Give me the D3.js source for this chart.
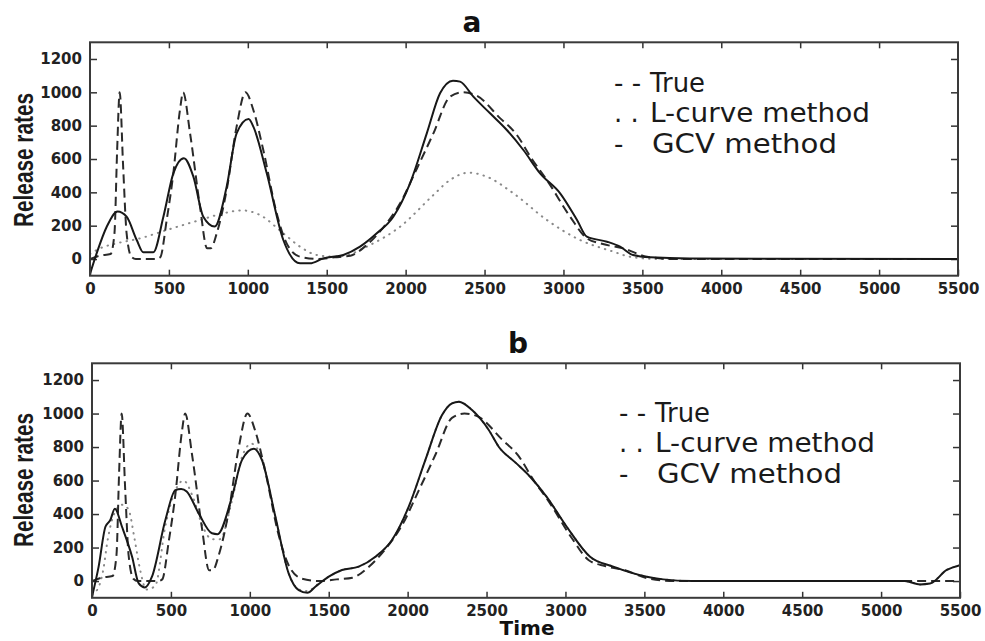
<!DOCTYPE html>
<html>
<head>
<meta charset="utf-8">
<title>Release rates: True, L-curve and GCV</title>
<script src="https://cdn.jsdelivr.net/npm/d3@7"></script>
<style>
  body { margin: 0; background: white; }
  .tick text { font-family: 'DejaVu Sans', sans-serif; font-weight: bold; font-size: 15px; fill: #222; }
  .tick line { stroke: #333; stroke-width: 1.5px; }
  .domain { display: none; }
  .frame { fill: none; stroke: #3a3a3a; stroke-width: 2px; }
  .true-line { fill: none; stroke: #2a2a2a; stroke-width: 2px; stroke-dasharray: 9,5; }
  .lcurve-line { fill: none; stroke: #8a8a8a; stroke-width: 2px; stroke-dasharray: 0.5,6; stroke-linecap: round; }
  .gcv-line { fill: none; stroke: #181818; stroke-width: 2px; }
  .legend { font-family: 'DejaVu Sans', sans-serif; font-size: 26px; fill: #1a1a1a; }
  .ylabel { font-family: 'Liberation Sans', Arial, sans-serif; font-weight: bold; font-size: 28px; fill: #1a1a1a; }
  .title { font-family: 'DejaVu Sans', sans-serif; font-weight: bold; font-size: 28px; fill: #111; }
  .xlabel { font-family: 'DejaVu Sans', sans-serif; font-weight: bold; font-size: 20px; fill: #111; }
</style>
</head>
<body>
<svg id="chart"></svg>
<script>
// axis ticks
var xTicks = [0, 500, 1000, 1500, 2000, 2500, 3000, 3500, 4000, 4500, 5000, 5500];
var yTicks = [0, 200, 400, 600, 800, 1000, 1200];
var legendMarks = ["- -", ". .", "-"];
var legendNames = ["True", "L-curve method", "GCV method"];

// true release rate (same in both panels)
var tTrue = [0, 60, 130, 155, 172, 188, 210, 232, 262, 290, 420, 445, 486, 528, 570, 590, 634, 697, 742, 765, 803, 866, 929, 985, 1035, 1098, 1183, 1246, 1331, 1450, 1550, 1650, 1753, 1850, 1965, 2070, 2176, 2281, 2360, 2450, 2598, 2700, 2800, 2895, 3042, 3148, 3250, 3378, 3530, 3700, 5500];
var vTrue = [0, 20, 30, 154, 654, 1000, 554, 154, 14, 0, 0, 10, 234, 514, 894, 1000, 754, 314, 64, 64, 154, 414, 794, 1000, 894, 654, 274, 94, 14, 0, 10, 20, 84, 180, 334, 540, 754, 974, 1000, 980, 845, 750, 600, 474, 254, 124, 90, 64, 14, 0, 0];

// panel a, L-curve
var tLcurveA = [0, 63, 169, 317, 486, 697, 845, 960, 1077, 1225, 1331, 1436, 1542, 1650, 1753, 1965, 2176, 2281, 2400, 2514, 2683, 2895, 3105, 3317, 3420, 3600, 5500];
var vLcurveA = [30, 64, 94, 124, 174, 234, 274, 292, 264, 154, 74, 24, 14, 30, 74, 194, 384, 474, 518, 494, 394, 234, 114, 44, 14, 0, 0];

// panel a, GCV
var tGcvA = [0, 42, 106, 175, 232, 296, 338, 401, 465, 528, 595, 655, 718, 790, 866, 929, 1005, 1035, 1120, 1225, 1331, 1394, 1479, 1605, 1711, 1817, 1922, 2028, 2134, 2218, 2300, 2345, 2429, 2535, 2641, 2746, 2852, 2979, 3086, 3148, 3276, 3359, 3441, 3550, 3800, 5500];
var vGcvA = [-90, 34, 194, 285, 254, 114, 40, 40, 254, 514, 605, 494, 254, 195, 434, 754, 840, 794, 514, 114, -26, -26, 4, 24, 74, 154, 254, 454, 754, 994, 1070, 1064, 974, 874, 774, 654, 514, 394, 234, 134, 104, 74, 24, 10, 3, 0];

// panel b, L-curve
var tLcurveB = [0, 40, 70, 100, 140, 190, 230, 270, 300, 345, 400, 465, 528, 580, 640, 700, 760, 810, 887, 950, 1010, 1077, 1162, 1246, 1310, 1370, 1415, 1500, 1584, 1690, 1796, 1901, 2007, 2112, 2218, 2281, 2325, 2408, 2514, 2577, 2680, 2776, 2881, 3008, 3156, 3303, 3515, 3620, 3800, 5000, 5150, 5247, 5310, 5416, 5500];
var vLcurveB = [-80, -40, 60, 250, 400, 455, 430, 250, 90, -50, -30, 330, 540, 600, 500, 330, 250, 250, 480, 740, 820, 730, 384, 46, -50, -60, -30, 26, 66, 86, 145, 245, 444, 722, 991, 1061, 1071, 1021, 902, 802, 710, 623, 503, 324, 145, 86, 26, 10, 0, 0, 0, -20, -15, 66, 95];

// panel b, GCV
var tGcvB = [0, 42, 85, 116, 145, 190, 254, 296, 335, 380, 465, 528, 565, 600, 676, 760, 795, 887, 950, 1025, 1077, 1162, 1246, 1310, 1365, 1415, 1500, 1584, 1690, 1796, 1901, 2007, 2112, 2218, 2281, 2325, 2408, 2514, 2577, 2680, 2776, 2881, 3008, 3156, 3303, 3515, 3620, 3800, 5000, 5150, 5247, 5310, 5416, 5500];
var vGcvB = [-94, 86, 324, 364, 432, 324, 145, -14, -38, 26, 364, 543, 550, 535, 404, 285, 280, 503, 722, 790, 722, 384, 46, -54, -70, -34, 26, 66, 86, 145, 245, 444, 722, 991, 1061, 1071, 1021, 902, 802, 710, 623, 503, 324, 145, 86, 26, 10, 0, 0, 0, -20, -15, 66, 95];

var width = 985, height = 641;
var svg = d3.select("#chart").attr("width", width).attr("height", height);
svg.append("rect").attr("width", width).attr("height", height).attr("fill", "white");

var panels = [
  { name: "a", x0: 90, x1: 958, y0: 42.3, y1: 275.7, titleX: 472, titleY: 32, legX: 614, legY: 91.7,
    lcurve: [tLcurveA, vLcurveA], gcv: [tGcvA, vGcvA], ylabelY: 160 },
  { name: "b", x0: 92, x1: 960, y0: 363.3, y1: 597.8, titleX: 518, titleY: 353, legX: 619, legY: 421.7,
    lcurve: [tLcurveB, vLcurveB], gcv: [tGcvB, vGcvB], ylabelY: 480 }
];

panels.forEach(function(p, i) {
  var x = d3.scaleLinear().domain([0, 5500]).range([p.x0, p.x1]);
  var y = d3.scaleLinear().domain([-100, 1300]).range([p.y1, p.y0]);
  var g = svg.append("g");

  g.append("clipPath").attr("id", "clip" + i)
    .append("rect").attr("x", p.x0).attr("y", p.y0)
    .attr("width", p.x1 - p.x0).attr("height", p.y1 - p.y0);

  // axes with inward ticks
  g.append("g").attr("transform", "translate(0," + p.y1 + ")")
    .call(d3.axisBottom(x).tickValues(xTicks).tickSize(-6).tickPadding(8).tickFormat(d3.format("d")));
  g.append("g").attr("transform", "translate(0," + p.y0 + ")")
    .call(d3.axisTop(x).tickValues(xTicks.slice(1, -1)).tickSize(-6).tickFormat(""));
  g.append("g").attr("transform", "translate(" + p.x0 + ",0)")
    .call(d3.axisLeft(y).tickValues(yTicks).tickSize(-7).tickPadding(8).tickFormat(d3.format("d")));
  g.append("g").attr("transform", "translate(" + p.x1 + ",0)")
    .call(d3.axisRight(y).tickValues(yTicks).tickSize(-7).tickFormat(""));

  var line = d3.line()
    .x(function(d) { return x(d[0]); })
    .y(function(d) { return y(d[1]); })
    .curve(d3.curveMonotoneX);

  var plot = g.append("g").attr("clip-path", "url(#clip" + i + ")");
  plot.append("path").attr("class", "lcurve-line").attr("d", line(d3.zip(p.lcurve[0], p.lcurve[1])));
  plot.append("path").attr("class", "true-line").attr("d", line(d3.zip(tTrue, vTrue)));
  plot.append("path").attr("class", "gcv-line").attr("d", line(d3.zip(p.gcv[0], p.gcv[1])));

  g.append("rect").attr("class", "frame")
    .attr("x", p.x0).attr("y", p.y0).attr("width", p.x1 - p.x0).attr("height", p.y1 - p.y0);

  g.append("text").attr("class", "title").attr("x", p.titleX).attr("y", p.titleY)
    .attr("text-anchor", "middle").text(p.name);

  g.append("text").attr("class", "ylabel")
    .attr("transform", "translate(33," + p.ylabelY + ") rotate(-90)")
    .attr("text-anchor", "middle")
    .attr("textLength", 134).attr("lengthAdjust", "spacingAndGlyphs")
    .text("Release rates");

  // legend
  var nameWidths = [55, 220, 185];
  legendNames.forEach(function(n, k) {
    var ly = p.legY + k * 30.5;
    g.append("text").attr("class", "legend").attr("x", p.legX).attr("y", ly)
      .text(legendMarks[k]);
    g.append("text").attr("class", "legend").attr("x", p.legX + (k == 2 ? 38 : 36)).attr("y", ly)
      .attr("textLength", nameWidths[k]).attr("lengthAdjust", "spacingAndGlyphs")
      .text(n);
  });
});

svg.append("text").attr("class", "xlabel").attr("x", 527).attr("y", 635)
  .attr("text-anchor", "middle").text("Time");
</script>
</body>
</html>
